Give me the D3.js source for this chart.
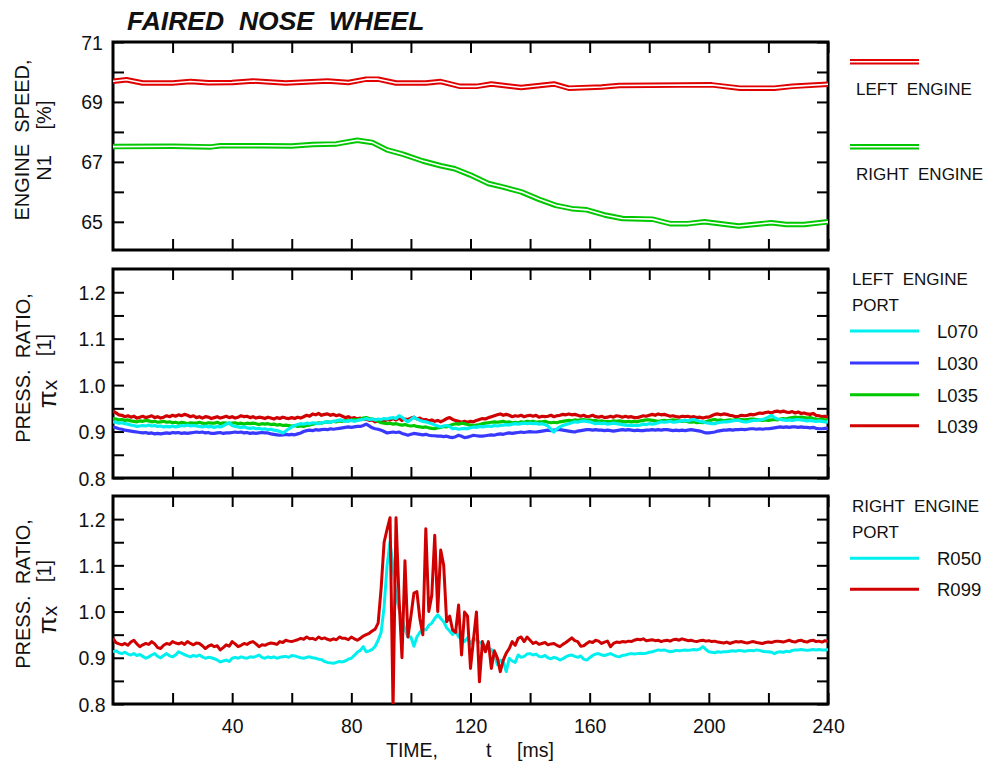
<!DOCTYPE html>
<html>
<head>
<meta charset="utf-8">
<script src="https://cdn.jsdelivr.net/npm/d3@7"></script>
<style>
  body { margin: 0; background: #fff; }
  svg text { font-family: Arial, "Liberation Sans", Helvetica, sans-serif; fill: #111; }
  .pre { white-space: pre; }
</style>
</head>
<body>
<svg id="chart" width="990" height="768"></svg>
<script>
// ---------- data ----------
const chartTitle = "FAIRED  NOSE  WHEEL";

// engine speed N1 [%], piecewise records
const leftN1Time  = [0, 4.5, 10, 20, 26, 32, 40, 47, 58, 72, 79, 85, 89, 95, 105, 110, 116.5, 122, 127, 137, 148, 153, 164, 170, 201, 210.5, 222, 228, 240];
const leftN1      = [69.69, 69.74, 69.63, 69.63, 69.68, 69.64, 69.65, 69.70, 69.63, 69.70, 69.65, 69.76, 69.76, 69.63, 69.63, 69.68, 69.52, 69.52, 69.60, 69.48, 69.60, 69.46, 69.50, 69.55, 69.57, 69.46, 69.46, 69.52, 69.59];
const rightN1Time = [0, 20, 33, 36, 50, 60, 67, 75, 82, 87, 92, 97.5, 104, 110, 114.7, 120, 126, 131, 137, 143, 148.6, 154, 159, 165, 171, 181, 187, 193, 198.5, 210, 221, 226, 232, 240];
const rightN1     = [67.51, 67.52, 67.50, 67.54, 67.54, 67.53, 67.58, 67.60, 67.72, 67.65, 67.40, 67.25, 67.03, 66.87, 66.77, 66.56, 66.28, 66.16, 66.00, 65.75, 65.55, 65.44, 65.40, 65.23, 65.11, 65.09, 64.94, 64.94, 65.00, 64.86, 64.97, 64.91, 64.91, 65.00];

// pressure ratio records, one sample per millisecond from t = 0 to 240 ms
const sampleStepMs = 1;
const L070 = [
0.921,0.920,0.918,0.919,0.917,0.916,0.914,0.913,0.911,0.912,
0.913,0.912,0.914,0.912,0.913,0.911,0.912,0.910,0.911,0.910,
0.912,0.910,0.911,0.913,0.912,0.914,0.912,0.913,0.912,0.911,
0.910,0.912,0.910,0.911,0.909,0.911,0.910,0.912,0.916,0.919,
0.913,0.911,0.910,0.909,0.910,0.908,0.907,0.908,0.906,0.907,
0.905,0.906,0.904,0.905,0.903,0.902,0.900,0.897,0.901,0.906,
0.910,0.913,0.915,0.917,0.916,0.918,0.917,0.919,0.918,0.917,
0.919,0.920,0.921,0.920,0.922,0.923,0.925,0.924,0.922,0.923,
0.924,0.922,0.924,0.925,0.926,0.928,0.926,0.927,0.925,0.927,
0.926,0.928,0.927,0.929,0.930,0.928,0.934,0.931,0.925,0.921,
0.926,0.931,0.927,0.924,0.922,0.921,0.919,0.917,0.914,0.912,
0.910,0.912,0.913,0.911,0.906,0.907,0.905,0.906,0.907,0.906,
0.908,0.910,0.909,0.911,0.910,0.911,0.912,0.911,0.913,0.912,
0.913,0.914,0.915,0.914,0.916,0.917,0.916,0.917,0.918,0.917,
0.918,0.917,0.918,0.916,0.917,0.915,0.912,0.905,0.899,0.906,
0.910,0.913,0.915,0.917,0.919,0.921,0.920,0.922,0.923,0.922,
0.921,0.919,0.917,0.918,0.917,0.918,0.916,0.917,0.918,0.917,
0.916,0.915,0.914,0.913,0.914,0.913,0.913,0.914,0.916,0.915,
0.917,0.916,0.917,0.919,0.921,0.920,0.921,0.922,0.920,0.921,
0.922,0.923,0.924,0.923,0.925,0.926,0.924,0.922,0.921,0.919,
0.918,0.917,0.917,0.919,0.920,0.921,0.921,0.922,0.923,0.924,
0.924,0.922,0.921,0.921,0.923,0.924,0.924,0.925,0.926,0.928,
0.931,0.935,0.930,0.927,0.926,0.925,0.924,0.925,0.924,0.925,
0.926,0.925,0.924,0.923,0.924,0.923,0.922,0.923,0.922,0.921,
0.921];
const L030 = [
0.910,0.908,0.906,0.905,0.903,0.902,0.901,0.900,0.899,0.898,
0.897,0.898,0.896,0.897,0.895,0.896,0.895,0.896,0.897,0.896,
0.898,0.897,0.898,0.896,0.897,0.896,0.897,0.898,0.899,0.898,
0.899,0.897,0.898,0.896,0.896,0.897,0.898,0.896,0.897,0.897,
0.898,0.899,0.898,0.899,0.897,0.898,0.896,0.897,0.896,0.897,
0.898,0.897,0.897,0.895,0.894,0.893,0.892,0.893,0.894,0.893,
0.894,0.893,0.895,0.897,0.900,0.902,0.903,0.902,0.904,0.903,
0.904,0.905,0.904,0.906,0.905,0.906,0.907,0.908,0.909,0.910,
0.909,0.910,0.911,0.911,0.913,0.916,0.912,0.908,0.906,0.905,
0.903,0.900,0.897,0.898,0.899,0.898,0.899,0.896,0.894,0.892,
0.894,0.896,0.895,0.894,0.893,0.894,0.892,0.891,0.891,0.890,
0.890,0.889,0.890,0.888,0.887,0.889,0.892,0.890,0.887,0.888,
0.890,0.892,0.891,0.890,0.890,0.891,0.892,0.893,0.892,0.894,
0.895,0.894,0.896,0.897,0.896,0.897,0.898,0.899,0.898,0.899,
0.900,0.899,0.899,0.900,0.901,0.902,0.903,0.902,0.903,0.904,
0.904,0.903,0.902,0.901,0.900,0.899,0.901,0.902,0.903,0.904,
0.904,0.903,0.904,0.903,0.903,0.902,0.903,0.902,0.901,0.902,
0.903,0.904,0.903,0.904,0.903,0.902,0.903,0.902,0.902,0.903,
0.903,0.904,0.903,0.904,0.903,0.904,0.904,0.903,0.902,0.903,
0.902,0.903,0.902,0.903,0.904,0.903,0.902,0.901,0.899,0.897,
0.897,0.898,0.899,0.901,0.902,0.903,0.903,0.904,0.903,0.904,
0.904,0.905,0.904,0.905,0.906,0.906,0.905,0.906,0.905,0.906,
0.906,0.907,0.908,0.909,0.910,0.909,0.910,0.909,0.910,0.910,
0.909,0.910,0.909,0.909,0.908,0.909,0.907,0.906,0.906,0.907,
0.907];
const L035 = [
0.928,0.927,0.925,0.926,0.924,0.925,0.923,0.922,0.921,0.923,
0.922,0.924,0.923,0.921,0.922,0.920,0.921,0.922,0.920,0.921,
0.919,0.920,0.918,0.920,0.919,0.917,0.919,0.918,0.918,0.920,
0.918,0.917,0.919,0.918,0.918,0.920,0.917,0.919,0.918,0.917,
0.918,0.919,0.917,0.918,0.916,0.918,0.917,0.918,0.917,0.915,
0.917,0.916,0.917,0.915,0.916,0.914,0.915,0.913,0.914,0.913,
0.912,0.913,0.911,0.912,0.911,0.913,0.914,0.916,0.917,0.919,
0.918,0.920,0.921,0.920,0.922,0.921,0.923,0.922,0.924,0.923,
0.925,0.926,0.925,0.927,0.929,0.930,0.928,0.927,0.926,0.922,
0.919,0.918,0.917,0.918,0.916,0.917,0.915,0.914,0.915,0.913,
0.912,0.913,0.911,0.910,0.909,0.910,0.908,0.907,0.906,0.908,
0.909,0.911,0.910,0.913,0.915,0.917,0.916,0.918,0.917,0.915,
0.914,0.913,0.914,0.915,0.917,0.918,0.919,0.920,0.921,0.920,
0.921,0.922,0.920,0.921,0.919,0.920,0.919,0.921,0.920,0.922,
0.921,0.922,0.920,0.921,0.921,0.922,0.920,0.919,0.920,0.919,
0.921,0.922,0.923,0.924,0.923,0.925,0.924,0.925,0.926,0.924,
0.925,0.923,0.924,0.922,0.923,0.921,0.922,0.921,0.923,0.922,
0.923,0.922,0.921,0.922,0.921,0.922,0.921,0.923,0.924,0.925,
0.925,0.924,0.923,0.922,0.923,0.924,0.923,0.924,0.925,0.924,
0.923,0.922,0.923,0.921,0.920,0.921,0.919,0.920,0.919,0.921,
0.923,0.925,0.926,0.924,0.925,0.923,0.924,0.925,0.924,0.926,
0.925,0.926,0.925,0.926,0.927,0.927,0.926,0.925,0.924,0.925,
0.924,0.925,0.926,0.925,0.927,0.928,0.927,0.929,0.930,0.931,
0.930,0.931,0.930,0.929,0.930,0.928,0.927,0.926,0.927,0.925,
0.925];
const L039 = [
0.944,0.940,0.936,0.935,0.932,0.934,0.931,0.933,0.929,0.931,
0.933,0.930,0.932,0.934,0.930,0.932,0.929,0.931,0.934,0.932,
0.935,0.933,0.936,0.934,0.937,0.935,0.932,0.934,0.930,0.932,
0.929,0.932,0.931,0.928,0.930,0.932,0.929,0.931,0.933,0.930,
0.932,0.929,0.931,0.934,0.932,0.933,0.930,0.932,0.929,0.931,
0.930,0.928,0.931,0.929,0.927,0.930,0.928,0.931,0.929,0.928,
0.930,0.928,0.931,0.929,0.932,0.935,0.933,0.938,0.936,0.939,
0.935,0.937,0.938,0.935,0.937,0.934,0.936,0.933,0.930,0.932,
0.928,0.930,0.927,0.929,0.926,0.927,0.924,0.925,0.921,0.923,
0.924,0.922,0.926,0.925,0.928,0.925,0.929,0.924,0.927,0.926,
0.929,0.931,0.927,0.929,0.925,0.926,0.923,0.925,0.922,0.924,
0.921,0.924,0.928,0.930,0.926,0.924,0.922,0.920,0.922,0.920,
0.922,0.921,0.924,0.926,0.928,0.927,0.930,0.932,0.934,0.936,
0.938,0.935,0.937,0.935,0.932,0.934,0.933,0.935,0.932,0.934,
0.935,0.933,0.935,0.931,0.933,0.932,0.933,0.935,0.932,0.934,
0.935,0.937,0.936,0.938,0.936,0.937,0.935,0.933,0.935,0.932,
0.933,0.935,0.932,0.931,0.933,0.930,0.931,0.933,0.931,0.934,
0.933,0.931,0.933,0.931,0.932,0.930,0.930,0.932,0.934,0.933,
0.935,0.937,0.935,0.938,0.936,0.937,0.935,0.933,0.934,0.932,
0.931,0.933,0.932,0.933,0.931,0.932,0.930,0.931,0.929,0.931,
0.931,0.934,0.937,0.938,0.936,0.938,0.937,0.935,0.934,0.932,
0.933,0.935,0.934,0.935,0.937,0.936,0.938,0.940,0.939,0.941,
0.942,0.940,0.943,0.944,0.942,0.944,0.942,0.941,0.943,0.940,
0.942,0.939,0.940,0.938,0.937,0.939,0.935,0.934,0.932,0.933,
0.931];
const R050 = [
0.913,0.915,0.911,0.909,0.912,0.908,0.906,0.909,0.905,0.907,
0.903,0.899,0.902,0.906,0.909,0.903,0.900,0.905,0.909,0.904,
0.902,0.906,0.913,0.910,0.907,0.904,0.902,0.905,0.903,0.906,
0.902,0.899,0.901,0.900,0.898,0.895,0.891,0.893,0.895,0.892,
0.899,0.901,0.899,0.902,0.900,0.899,0.902,0.901,0.903,0.906,
0.901,0.899,0.902,0.900,0.902,0.899,0.901,0.902,0.903,0.901,
0.905,0.904,0.902,0.900,0.899,0.901,0.902,0.900,0.899,0.897,
0.896,0.892,0.890,0.889,0.888,0.890,0.892,0.891,0.893,0.897,
0.899,0.905,0.912,0.916,0.924,0.913,0.915,0.918,0.925,0.938,
0.955,1.010,1.100,1.151,1.095,1.035,1.005,0.985,0.962,0.945,
0.945,0.925,0.945,0.955,0.962,0.960,0.970,0.975,0.985,0.993,
0.985,0.978,0.965,0.958,0.950,0.960,0.945,0.942,0.935,0.943,
0.930,0.942,0.938,0.934,0.930,0.925,0.920,0.918,0.908,0.885,
0.895,0.892,0.870,0.899,0.893,0.890,0.906,0.901,0.903,0.908,
0.909,0.906,0.908,0.903,0.902,0.905,0.900,0.898,0.901,0.899,
0.895,0.898,0.902,0.905,0.906,0.903,0.901,0.904,0.897,0.895,
0.900,0.905,0.908,0.909,0.906,0.905,0.907,0.909,0.906,0.903,
0.902,0.905,0.906,0.908,0.909,0.908,0.909,0.910,0.909,0.910,
0.912,0.913,0.915,0.917,0.916,0.917,0.915,0.913,0.914,0.916,
0.915,0.916,0.917,0.916,0.917,0.918,0.917,0.919,0.924,0.918,
0.913,0.912,0.911,0.913,0.912,0.913,0.913,0.914,0.915,0.914,
0.916,0.915,0.914,0.915,0.916,0.915,0.917,0.916,0.914,0.913,
0.913,0.912,0.909,0.912,0.913,0.912,0.914,0.913,0.916,0.917,
0.917,0.918,0.917,0.916,0.917,0.918,0.917,0.918,0.917,0.917,
0.918];
const R099 = [
0.942,0.933,0.930,0.928,0.931,0.927,0.934,0.938,0.930,0.924,
0.928,0.931,0.929,0.935,0.930,0.922,0.920,0.927,0.931,0.929,
0.935,0.932,0.930,0.933,0.929,0.935,0.931,0.928,0.932,0.931,
0.926,0.920,0.925,0.928,0.924,0.926,0.917,0.922,0.928,0.925,
0.935,0.930,0.924,0.927,0.931,0.929,0.933,0.935,0.930,0.924,
0.928,0.927,0.930,0.932,0.931,0.929,0.935,0.933,0.938,0.936,
0.935,0.937,0.939,0.942,0.940,0.945,0.941,0.942,0.939,0.945,
0.941,0.943,0.940,0.938,0.941,0.939,0.945,0.942,0.942,0.939,
0.945,0.941,0.938,0.942,0.947,0.950,0.953,0.958,0.962,0.975,
1.050,1.150,1.178,1.203,0.790,1.203,1.030,0.900,1.110,0.945,
0.990,1.040,1.043,0.985,0.950,1.179,1.000,1.035,1.165,1.000,
1.133,1.100,0.978,0.990,0.960,0.955,1.014,0.906,0.999,0.990,
0.877,0.940,0.999,0.848,0.935,0.913,0.935,0.877,0.915,0.900,
0.870,0.895,0.910,0.920,0.935,0.927,0.942,0.945,0.935,0.945,
0.938,0.931,0.934,0.929,0.931,0.933,0.928,0.930,0.931,0.927,
0.924,0.929,0.933,0.938,0.943,0.937,0.935,0.925,0.926,0.931,
0.935,0.933,0.938,0.936,0.931,0.934,0.936,0.924,0.931,0.934,
0.933,0.935,0.934,0.936,0.935,0.938,0.940,0.939,0.941,0.937,
0.938,0.939,0.937,0.938,0.935,0.937,0.938,0.936,0.939,0.940,
0.938,0.941,0.939,0.937,0.938,0.936,0.935,0.937,0.938,0.936,
0.937,0.935,0.936,0.934,0.933,0.932,0.934,0.931,0.933,0.935,
0.934,0.935,0.933,0.932,0.934,0.935,0.933,0.932,0.931,0.933,
0.934,0.933,0.935,0.936,0.935,0.934,0.936,0.938,0.935,0.934,
0.937,0.938,0.935,0.934,0.937,0.938,0.935,0.936,0.934,0.937,
0.935];

// axis tick values
const timeTicks   = [20, 40, 60, 80, 100, 120, 140, 160, 180, 200, 220, 240];
const timeLabels  = [40, 80, 120, 160, 200, 240];
const n1Ticks     = [65, 66, 67, 68, 69, 70, 71];
const n1Labels    = [65, 67, 69, 71];
const prTicks     = [0.8, 0.85, 0.9, 0.95, 1.0, 1.05, 1.1, 1.15, 1.2];
const prLabels    = [0.8, 0.9, 1.0, 1.1, 1.2];

// series definitions
const engineSeries = [
  { name: "LEFT ENGINE",  label: "LEFT  ENGINE",  color: "#e00000", t: leftN1Time,  v: leftN1 },
  { name: "RIGHT ENGINE", label: "RIGHT  ENGINE", color: "#00c800", t: rightN1Time, v: rightN1 }
];
const leftPorts = [
  { name: "L070", color: "#00f0f0", v: L070 },
  { name: "L030", color: "#3838ff", v: L030 },
  { name: "L035", color: "#00c800", v: L035 },
  { name: "L039", color: "#d00000", v: L039 }
];
const rightPorts = [
  { name: "R050", color: "#00f0f0", v: R050 },
  { name: "R099", color: "#d00000", v: R099 }
];

// ---------- layout ----------
const svg = d3.select("#chart");
const plotLeft = 113, plotRight = 828;
const panels = [
  { top: 42,  bottom: 250 },
  { top: 269, bottom: 478 },
  { top: 496, bottom: 704 }
];

const x = d3.scaleLinear().domain([0, 240]).range([plotLeft, plotRight]);
const yN1 = d3.scaleLinear().domain([64.06, 71]).range([panels[0].bottom, panels[0].top]);
const yL  = d3.scaleLinear().domain([0.8, 1.25]).range([panels[1].bottom, panels[1].top]);
const yR  = d3.scaleLinear().domain([0.8, 1.25]).range([panels[2].bottom, panels[2].top]);

const TICK = 11;
const TICK_FONT = 19.5;

function drawFrame(p, yScale, yTicks, yLabels, yFmt, showTimeLabels, idx) {
  const g = svg.append("g").attr("class", "frame");
  // clip region for the traces
  svg.append("clipPath").attr("id", "clip" + idx)
    .append("rect")
    .attr("x", plotLeft).attr("y", p.top)
    .attr("width", plotRight - plotLeft).attr("height", p.bottom - p.top);

  const styleAxis = sel => {
    sel.select(".domain").remove();
    sel.selectAll(".tick line").attr("stroke", "#000").attr("stroke-width", 2);
  };

  // left axis
  const left = g.append("g").attr("transform", `translate(${plotLeft},0)`)
    .call(d3.axisLeft(yScale).tickValues(yTicks).tickSize(-TICK)
      .tickFormat(d => yLabels.some(l => Math.abs(l - d) < 1e-6) ? yFmt(d) : ""));
  styleAxis(left);
  left.selectAll(".tick text")
    .attr("x", -21).attr("dy", "0.36em")
    .attr("text-anchor", "middle")
    .attr("font-size", TICK_FONT).attr("fill", "#111")
    .attr("font-family", "Arial, 'Liberation Sans', sans-serif");

  // right axis
  const right = g.append("g").attr("transform", `translate(${plotRight},0)`)
    .call(d3.axisRight(yScale).tickValues(yTicks).tickSize(-TICK).tickFormat(""));
  styleAxis(right);

  // top axis
  const top = g.append("g").attr("transform", `translate(0,${p.top})`)
    .call(d3.axisTop(x).tickValues(timeTicks).tickSize(-TICK).tickFormat(""));
  styleAxis(top);

  // bottom axis
  const bottom = g.append("g").attr("transform", `translate(0,${p.bottom})`)
    .call(d3.axisBottom(x).tickValues(timeTicks).tickSize(-TICK)
      .tickFormat(d => showTimeLabels && timeLabels.includes(d) ? d : ""));
  styleAxis(bottom);
  bottom.selectAll(".tick text")
    .attr("y", 22).attr("dy", "0.36em")
    .attr("font-size", TICK_FONT).attr("fill", "#111")
    .attr("font-family", "Arial, 'Liberation Sans', sans-serif");

  // frame
  g.append("rect").attr("class", "border")
    .attr("x", plotLeft).attr("y", p.top)
    .attr("width", plotRight - plotLeft).attr("height", p.bottom - p.top)
    .attr("fill", "none").attr("stroke", "#000").attr("stroke-width", 3);
  return g;
}

// ---------- title ----------
svg.append("text")
  .attr("class", "pre")
  .attr("x", 127).attr("y", 30)
  .attr("font-size", 26.5).attr("font-weight", "bold").attr("font-style", "italic")
  .text(chartTitle);

// ---------- panel 1: engine speed ----------
const n1Line = d3.line().x(d => x(d[0])).y(d => yN1(d[1]));
drawFrame(panels[0], yN1, n1Ticks, n1Labels, d3.format("d"), false, 0);
const traces1 = svg.append("g").attr("clip-path", "url(#clip0)");
engineSeries.forEach(s => {
  const pts = s.t.map((t, i) => [t, s.v[i]]);
  traces1.append("path").attr("d", n1Line(pts))
    .attr("fill", "none").attr("stroke", s.color).attr("stroke-width", 5.5)
    .attr("stroke-linejoin", "round");
  traces1.append("path").attr("d", n1Line(pts))
    .attr("fill", "none").attr("stroke", "#fff").attr("stroke-width", 1.6)
    .attr("stroke-linejoin", "round");
});

// ---------- panels 2 & 3: pressure ratio ----------
function drawTraces(series, yScale, clipIdx, order, width) {
  const line = d3.line()
    .x((d, i) => x(i * sampleStepMs))
    .y(d => yScale(d));
  const g = svg.append("g").attr("clip-path", `url(#clip${clipIdx})`);
  order.forEach(k => {
    const s = series[k];
    g.append("path").attr("d", line(s.v))
      .attr("fill", "none").attr("stroke", s.color)
      .attr("stroke-width", width).attr("stroke-linejoin", "round");
  });
  return g;
}
drawFrame(panels[1], yL, prTicks, prLabels, d3.format(".1f"), false, 1);
drawTraces(leftPorts, yL, 1, [1, 3, 2, 0], 3.2);
drawFrame(panels[2], yR, prTicks, prLabels, d3.format(".1f"), true, 2);
drawTraces(rightPorts, yR, 2, [0, 1], 3);
// keep the panel borders above the traces
svg.selectAll("rect.border").raise();

// ---------- axis titles ----------
function vText(xp, yp, txt, size) {
  return svg.append("text").attr("class", "pre")
    .attr("transform", `translate(${xp},${yp}) rotate(-90)`)
    .attr("text-anchor", "middle").attr("font-size", size).text(txt);
}
vText(29, 140, "ENGINE  SPEED,", 20);
vText(51, 168, "N1", 20);
vText(51, 115, "[%]", 20);

[[panels[1], 368], [panels[2], 594]].forEach(([p, cy]) => {
  vText(30, cy, "PRESS.  RATIO,", 20);
  vText(51, cy - 23, "[1]", 20);
  const t = svg.append("text")
    .attr("transform", `translate(56,${cy + 26}) rotate(-90)`)
    .attr("text-anchor", "middle");
  t.append("tspan").attr("font-size", 26).text("π");
  t.append("tspan").attr("font-size", 21).attr("dy", 1).text("x");
});

svg.append("text").attr("x", 386).attr("y", 757).attr("font-size", 19.5).text("TIME,");
svg.append("text").attr("x", 486).attr("y", 757).attr("font-size", 19.5).text("t");
svg.append("text").attr("x", 517).attr("y", 757).attr("font-size", 19.5).text("[ms]");

// ---------- legends ----------
const legX0 = 850, legX1 = 919;
// engine speed legend (double lines)
const engineLegendY = [61.8, 146.7];
engineSeries.forEach((s, i) => {
  const yy = engineLegendY[i];
  svg.append("line").attr("x1", legX0).attr("x2", legX1).attr("y1", yy).attr("y2", yy)
    .attr("stroke", s.color).attr("stroke-width", 5.5);
  svg.append("line").attr("x1", legX0).attr("x2", legX1).attr("y1", yy).attr("y2", yy)
    .attr("stroke", "#fff").attr("stroke-width", 1.6);
  svg.append("text").attr("class", "pre").attr("x", 856).attr("y", yy + 33)
    .attr("font-size", 17).text(s.label);
});

function portLegend(header, headerY, series, lineYs) {
  svg.append("text").attr("class", "pre").attr("x", 852).attr("y", headerY)
    .attr("font-size", 17).text(header);
  svg.append("text").attr("x", 852).attr("y", headerY + 26)
    .attr("font-size", 17).text("PORT");
  series.forEach((s, i) => {
    const yy = lineYs[i];
    svg.append("line").attr("x1", legX0).attr("x2", legX1).attr("y1", yy).attr("y2", yy)
      .attr("stroke", s.color).attr("stroke-width", 3);
    svg.append("text").attr("x", 937).attr("y", yy + 7).attr("font-size", 18.5).text(s.name);
  });
}
portLegend("LEFT  ENGINE", 285, leftPorts, [331, 363, 394.7, 425.7]);
portLegend("RIGHT  ENGINE", 511.7, rightPorts, [558.3, 589.3]);
</script>
</body>
</html>
